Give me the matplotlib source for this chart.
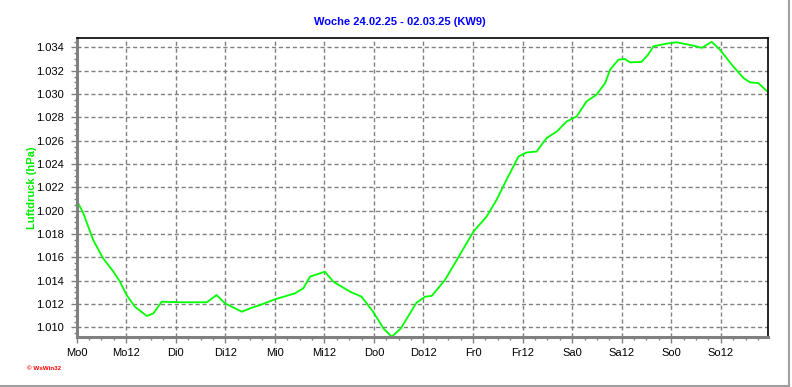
import matplotlib
matplotlib.use('Agg')
import matplotlib.pyplot as plt
from matplotlib.lines import Line2D
from matplotlib.ticker import MultipleLocator

plt.rcParams['font.family'] = ['Liberation Sans', 'DejaVu Sans']

# Stunden seit Mo 0 Uhr und Luftdruck
stunden = [0, 1.6, 4.0, 6.4, 8.9, 10.5, 12.1, 14.1, 17.0, 18.6, 20.6, 22.6, 26, 31.5,
           33.9, 35.9, 40, 42, 44.4, 48.0, 52.9, 54.9, 56.5, 60.1, 62.2, 66.2, 69.0,
           71.8, 74.3, 76.3, 78.5, 82.3, 84.4, 86.0, 89.2, 91.6, 96.1, 99.3, 101.7,
           104.1, 107.0, 109.0, 111.4, 113.8, 116.3, 118.7, 121.1, 123.5, 125.9, 128.0,
           129.2, 131.2, 132.8, 134.0, 136.8, 138.4, 139.7, 142.9, 145.3, 149.3, 151.4,
           153.8, 155.8, 159.0, 161.5, 163.1, 165.1, 167.5]
druck = [1.0209, 1.01979, 1.01749, 1.01592, 1.01477, 1.01391, 1.01277, 1.01177, 1.01097,
         1.0112, 1.0122, 1.01217, 1.01215, 1.01215, 1.01277, 1.01206, 1.01134, 1.01163,
         1.01191, 1.0124, 1.01292, 1.01335, 1.01434, 1.01477, 1.01391, 1.01306, 1.01263,
         1.01134, 1.00991, 1.0092, 1.0099, 1.01211, 1.01263, 1.0127, 1.01406, 1.01549,
         1.01821, 1.0195, 1.02093, 1.02264, 1.02464, 1.02499, 1.02507, 1.02622, 1.02679,
         1.02765, 1.02808, 1.02937, 1.02994, 1.03094, 1.03209, 1.03294, 1.033, 1.03271,
         1.03275, 1.03337, 1.03409, 1.03432, 1.03443, 1.03415, 1.03395, 1.03447, 1.0338,
         1.03237, 1.03137, 1.031, 1.03094, 1.03014]

x_ticks = [0, 12, 24, 36, 48, 60, 72, 84, 96, 108, 120, 132, 144, 156]
x_labels = ['Mo0', 'Mo12', 'Di0', 'Di12', 'Mi0', 'Mi12', 'Do0', 'Do12',
            'Fr0', 'Fr12', 'Sa0', 'Sa12', 'So0', 'So12']
y_ticks = [1.010, 1.012, 1.014, 1.016, 1.018, 1.020, 1.022, 1.024,
           1.026, 1.028, 1.030, 1.032, 1.034]

fig = plt.figure(figsize=(7.92, 3.87), dpi=100)
ax = fig.add_axes([0.0968, 0.130, 0.970 - 0.0968, 0.9018 - 0.130])

ax.plot(stunden, druck, color='#00ff00', lw=1.3)

ax.set_xlim(0, 167.5)
ax.set_ylim(1.0092, 1.0348)
ax.set_xticks(x_ticks)
ax.set_xticklabels(x_labels)
ax.set_yticks(y_ticks)
ax.set_yticklabels([f'{v:.3f}' for v in y_ticks])
ax.xaxis.set_minor_locator(MultipleLocator(3))
ax.yaxis.set_minor_locator(MultipleLocator(0.0005))

ax.grid(True, which='major', color='#808080', linestyle=(0, (3, 2)), lw=1)
ax.tick_params(axis='both', which='major', labelsize=8, color='#808080',
               direction='out', length=4, width=1)
ax.tick_params(axis='x', which='major', pad=4)
ax.tick_params(axis='y', which='major', pad=5)
ax.tick_params(axis='both', which='minor', color='#808080', direction='out',
               length=2.5, width=1)

for s in ['left', 'bottom']:
    ax.spines[s].set_color('#808080')
    ax.spines[s].set_linewidth(2.2)
for s in ['top', 'right']:
    ax.spines[s].set_color('black')
    ax.spines[s].set_linewidth(1.2)

fig.text(0.505, 0.943, 'Woche 24.02.25 - 02.03.25 (KW9)', color='#0000ff',
         fontsize=8, fontweight='bold', ha='center', va='center')
fig.text(0.040, 0.515, 'Luftdruck (hPa)', color='#00ee00', fontsize=8,
         fontweight='bold', rotation=90, ha='center', va='center')
fig.text(0.034, 0.049, '\u00a9 WsWin32', color='#ff0000', fontsize=4.5,
         fontweight='bold', ha='left', va='center')

# grauer Rahmen rechts und unten
fig.add_artist(Line2D([0.9965, 0.9965], [0.003, 1.0], color='#a0a0a0', lw=1.5))
fig.add_artist(Line2D([0.0, 0.9965], [0.003, 0.003], color='#a0a0a0', lw=1.5))

fig.savefig('out.png', dpi=100)
